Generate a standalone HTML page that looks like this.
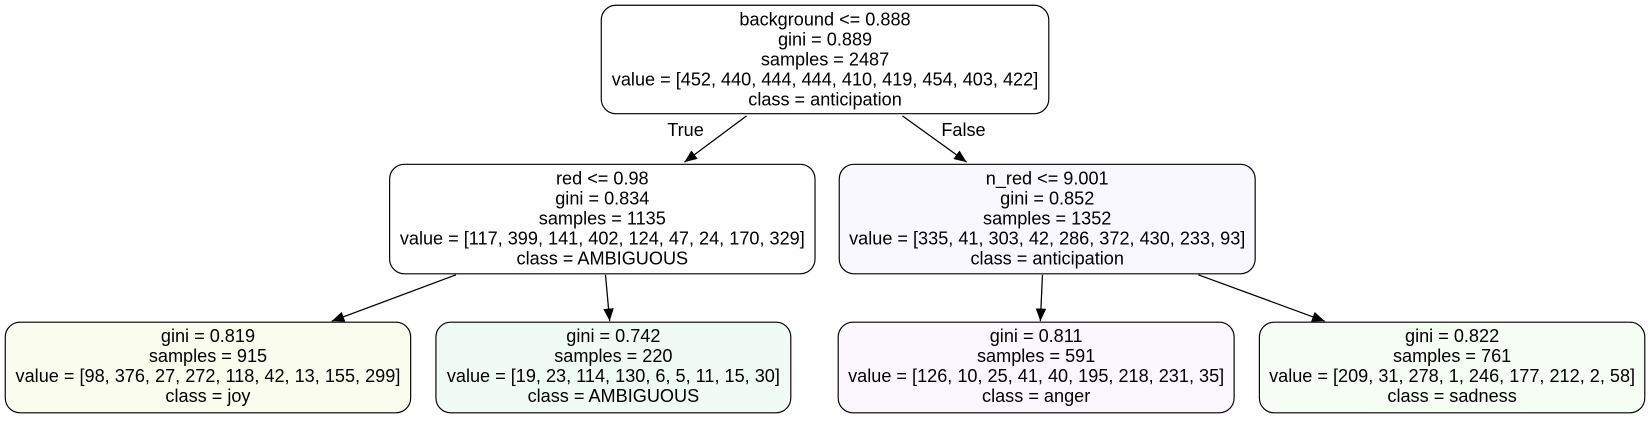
<!DOCTYPE html>
<html><head><meta charset="utf-8"><style>
html,body{margin:0;padding:0;background:#fff;}
svg text{font-family:"Liberation Sans",sans-serif;font-size:17.2px;fill:#000;text-anchor:middle;}
</style></head><body>
<svg width="1651" height="419" viewBox="0 0 1651 419">
<defs><marker id="ah" markerWidth="13" markerHeight="11" refX="12" refY="5" orient="auto" markerUnits="userSpaceOnUse"><path d="M0,0 L12,5 L0,10 z" fill="#000"/></marker></defs>
<g id="root" transform="scale(1.053)">
<g stroke="#000" stroke-width="1.2" fill="none">
<line x1="709" y1="110" x2="650" y2="154" marker-end="url(#ah)"/>
<line x1="857" y1="110" x2="918" y2="154" marker-end="url(#ah)"/>
<line x1="433" y1="261" x2="315" y2="305" marker-end="url(#ah)"/>
<line x1="575" y1="261" x2="579" y2="305" marker-end="url(#ah)"/>
<line x1="990" y1="261" x2="988" y2="305" marker-end="url(#ah)"/>
<line x1="1138" y1="261" x2="1258" y2="305" marker-end="url(#ah)"/>
</g>
<text x="651" y="129">True</text>
<text x="915" y="129">False</text>
</g>
<script>
const nodes=[
 {n:'root-node',x:571,y:5,w:425,h:103,f:'#ffffff',t:['background <= 0.888','gini = 0.889','samples = 2487','value = [452, 440, 444, 444, 410, 419, 454, 403, 422]','class = anticipation']},
 {n:'left-split-node',x:370,y:156,w:404,h:104,f:'#fefefe',t:['red <= 0.98','gini = 0.834','samples = 1135','value = [117, 399, 141, 402, 124, 47, 24, 170, 329]','class = AMBIGUOUS']},
 {n:'right-split-node',x:797,y:156,w:395,h:104,f:'#f9f8fe',t:['n_red <= 9.001','gini = 0.852','samples = 1352','value = [335, 41, 303, 42, 286, 372, 430, 233, 93]','class = anticipation']},
 {n:'leaf-joy',x:5,y:306,w:385,h:86,f:'#fafcee',t:['gini = 0.819','samples = 915','value = [98, 376, 27, 272, 118, 42, 13, 155, 299]','class = joy']},
 {n:'leaf-ambiguous',x:414,y:306,w:337,h:86,f:'#f0fbf6',t:['gini = 0.742','samples = 220','value = [19, 23, 114, 130, 6, 5, 11, 15, 30]','class = AMBIGUOUS']},
 {n:'leaf-anger',x:796,y:306,w:376,h:86,f:'#faf8fe',t:['gini = 0.811','samples = 591','value = [126, 10, 25, 41, 40, 195, 218, 231, 35]','class = anger']},
 {n:'leaf-sadness',x:1196,y:306,w:366,h:86,f:'#f6fdf4',t:['gini = 0.822','samples = 761','value = [209, 31, 278, 1, 246, 177, 212, 2, 58]','class = sadness']}
];
const NS='http://www.w3.org/2000/svg';
const svg=document.getElementById('root');
nodes.forEach(d=>{
 const g=document.createElementNS(NS,'g');
 
 
 const r=document.createElementNS(NS,'rect');
 r.setAttribute('x',d.x);r.setAttribute('y',d.y);r.setAttribute('width',d.w);r.setAttribute('height',d.h);
 r.setAttribute('rx',14);r.setAttribute('fill',d.f);r.setAttribute('stroke','#000');r.setAttribute('stroke-width','1.1');
 
 
 g.appendChild(r);
 const cx=d.x+d.w/2;
 d.t.forEach((s,i)=>{
  const t=document.createElementNS(NS,'text');
  t.setAttribute('x',cx);t.setAttribute('y',d.y+19+i*19);
  t.textContent=s;
  
  
  g.appendChild(t);
 });
 svg.appendChild(g);
});
</script>
</svg>
</body></html>
